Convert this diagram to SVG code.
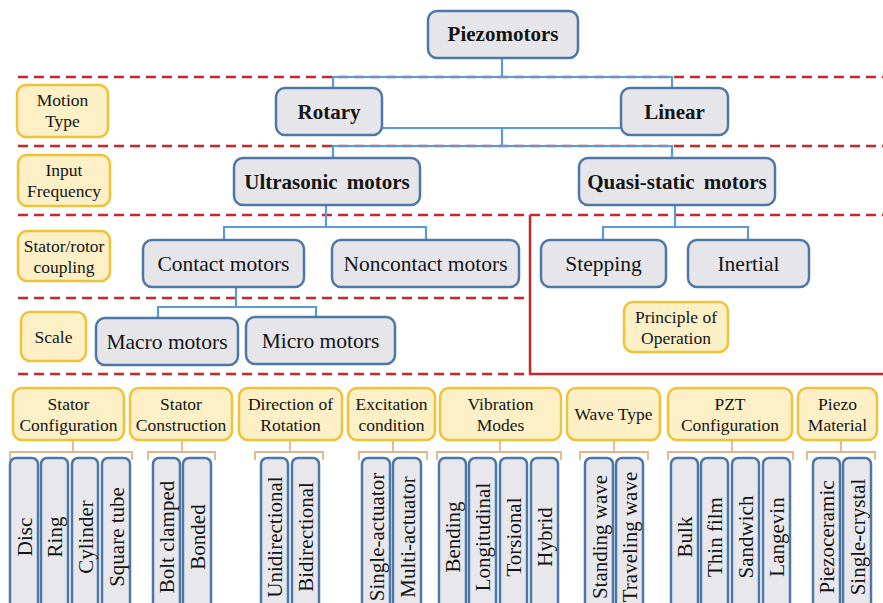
<svg xmlns="http://www.w3.org/2000/svg" width="883" height="603" viewBox="0 0 883 603">
<style>
text{font-family:"Liberation Serif","Times New Roman",serif;fill:#141414;text-anchor:middle}
.n{fill:#e6e6ea;stroke:#4d77a6;stroke-width:2.5}
.y{fill:#fdf0c6;stroke:#f0c238;stroke-width:2.5}
.l{fill:#e8e8ec;stroke:#4d77a6;stroke-width:2.5}
.b{font-weight:bold;font-size:21px}
.r{font-size:21.5px}
.s{font-size:17.5px}
.v{font-size:21px}
.c{fill:none;stroke:#5b9bd5;stroke-width:2.2}
.d{fill:none;stroke:#c8282c;stroke-width:2.5;stroke-dasharray:10 6}
.k{fill:none;stroke:#c8282c;stroke-width:2.5}
.t{fill:none;stroke:#e2b48e;stroke-width:1.8}
</style>
<rect width="883" height="603" fill="#ffffff"/>
<g id="dividers">
<line class="d" x1="18" y1="77" x2="883" y2="77"/>
<line class="d" x1="18" y1="146" x2="883" y2="146"/>
<line class="d" x1="18" y1="215" x2="883" y2="215"/>
<line class="d" x1="18" y1="298" x2="530" y2="298"/>
<line class="d" x1="18" y1="374" x2="530" y2="374"/>
<polyline class="k" points="530,215 530,374 883,374"/>
</g>
<g id="connectors">
<polyline class="c" points="502,58 502,77"/>
<polyline class="c" points="333,88 333,77 672,77 672,88"/>
<line class="c" x1="382" y1="128" x2="621" y2="128"/>
<polyline class="c" points="502,128 502,146"/>
<polyline class="c" points="333,158 333,146 672,146 672,158"/>
<polyline class="c" points="326,205 326,227"/>
<polyline class="c" points="224,240 224,227 426,227 426,240"/>
<polyline class="c" points="675,205 675,227"/>
<polyline class="c" points="603,240 603,227 748,227 748,240"/>
<polyline class="c" points="236,287 236,307"/>
<polyline class="c" points="158,318 158,307 316,307 316,318"/>
<polyline class="t" points="73,440 73,452"/><polyline class="t" points="10,460 10,452 132,452 132,460"/>
<polyline class="t" points="182,440 182,452"/><polyline class="t" points="148,460 148,452 215,452 215,460"/>
<polyline class="t" points="290,440 290,452"/><polyline class="t" points="255,460 255,452 323,452 323,460"/>
<polyline class="t" points="393,440 393,452"/><polyline class="t" points="359,460 359,452 427,452 427,460"/>
<polyline class="t" points="500,440 500,452"/><polyline class="t" points="437,460 437,452 561,452 561,460"/>
<polyline class="t" points="614,440 614,452"/><polyline class="t" points="580,460 580,452 648,452 648,460"/>
<polyline class="t" points="732,440 732,452"/><polyline class="t" points="668,460 668,452 793,452 793,460"/>
<polyline class="t" points="841,440 841,452"/><polyline class="t" points="807,460 807,452 875,452 875,460"/>
</g>
<g id="piezomotors"><rect class="n" x="428" y="11" width="150" height="47" rx="9"/><text class="b" x="503" y="41">Piezomotors</text></g>
<g id="rotary"><rect class="n" x="276" y="88" width="106" height="47" rx="9"/><text class="b" x="329" y="119">Rotary</text></g>
<g id="linear"><rect class="n" x="621" y="88" width="107" height="47" rx="9"/><text class="b" x="674.5" y="119">Linear</text></g>
<g id="ultrasonic"><rect class="n" x="234" y="158" width="186" height="47" rx="9"/><text class="b" x="327" y="189" word-spacing="4">Ultrasonic motors</text></g>
<g id="quasistatic"><rect class="n" x="579" y="158" width="196" height="47" rx="9"/><text class="b" x="677" y="189" word-spacing="4">Quasi-static motors</text></g>
<g id="contact"><rect class="n" x="143" y="240" width="161" height="47" rx="9"/><text class="r" x="223.5" y="271">Contact motors</text></g>
<g id="noncontact"><rect class="n" x="332" y="240" width="187" height="47" rx="9"/><text class="r" x="425.5" y="271">Noncontact motors</text></g>
<g id="stepping"><rect class="n" x="541" y="240" width="125" height="47" rx="9"/><text class="r" x="603.5" y="271">Stepping</text></g>
<g id="inertial"><rect class="n" x="688" y="240" width="121" height="47" rx="9"/><text class="r" x="748.5" y="271">Inertial</text></g>
<g id="macro"><rect class="n" x="96" y="318" width="142" height="47" rx="9"/><text class="r" x="167" y="349">Macro motors</text></g>
<g id="micro"><rect class="n" x="246" y="317" width="149" height="47" rx="9"/><text class="r" x="320.5" y="348">Micro motors</text></g>
<g id="lbl-motion"><rect class="y" x="17" y="85" width="91" height="52" rx="9"/><text class="s" x="62.5" y="106">Motion</text><text class="s" x="62.5" y="127">Type</text></g>
<g id="lbl-input"><rect class="y" x="18" y="155" width="92" height="51" rx="9"/><text class="s" x="64" y="175.5">Input</text><text class="s" x="64" y="196.5">Frequency</text></g>
<g id="lbl-coupling"><rect class="y" x="18" y="231" width="92" height="50" rx="9"/><text class="s" x="64" y="251.5">Stator/rotor</text><text class="s" x="64" y="272.5">coupling</text></g>
<g id="lbl-scale"><rect class="y" x="21" y="312" width="65" height="49" rx="9"/><text class="s" x="53.5" y="342.5">Scale</text></g>
<g id="lbl-principle"><rect class="y" x="624" y="302" width="104" height="50" rx="9"/><text class="s" x="676" y="322.5">Principle of</text><text class="s" x="676" y="343.5">Operation</text></g>
<g id="cat-statorconfig"><rect class="y" x="13" y="388" width="111" height="52" rx="9"/><text class="s" x="68.5" y="409.5">Stator</text><text class="s" x="68.5" y="430.5">Configuration</text></g>
<g id="cat-statorconst"><rect class="y" x="130" y="388" width="102" height="52" rx="9"/><text class="s" x="181" y="409.5">Stator</text><text class="s" x="181" y="430.5">Construction</text></g>
<g id="cat-direction"><rect class="y" x="239" y="388" width="103" height="52" rx="9"/><text class="s" x="290.5" y="409.5">Direction of</text><text class="s" x="290.5" y="430.5">Rotation</text></g>
<g id="cat-excitation"><rect class="y" x="348" y="388" width="87" height="52" rx="9"/><text class="s" x="391.5" y="409.5">Excitation</text><text class="s" x="391.5" y="430.5">condition</text></g>
<g id="cat-vibration"><rect class="y" x="440" y="388" width="121" height="52" rx="9"/><text class="s" x="500.5" y="409.5">Vibration</text><text class="s" x="500.5" y="430.5">Modes</text></g>
<g id="cat-wave"><rect class="y" x="567" y="388" width="93" height="52" rx="9"/><text class="s" x="613.5" y="420">Wave Type</text></g>
<g id="cat-pzt"><rect class="y" x="668" y="388" width="124" height="52" rx="9"/><text class="s" x="730" y="409.5">PZT</text><text class="s" x="730" y="430.5">Configuration</text></g>
<g id="cat-material"><rect class="y" x="798" y="388" width="79" height="52" rx="9"/><text class="s" x="837.5" y="409.5">Piezo</text><text class="s" x="837.5" y="430.5">Material</text></g>
<g id="leaf-disc"><rect class="l" x="10" y="458" width="28" height="160" rx="6"/><text class="v" transform="translate(31.5,537) rotate(-90)">Disc</text></g>
<g id="leaf-ring"><rect class="l" x="41" y="458" width="27" height="160" rx="6"/><text class="v" transform="translate(62,537) rotate(-90)">Ring</text></g>
<g id="leaf-cylinder"><rect class="l" x="72" y="458" width="26" height="160" rx="6"/><text class="v" transform="translate(92.5,537) rotate(-90)">Cylinder</text></g>
<g id="leaf-square"><rect class="l" x="102" y="458" width="28" height="160" rx="6"/><text class="v" transform="translate(123.5,537) rotate(-90)">Square tube</text></g>
<g id="leaf-bolt"><rect class="l" x="153" y="458" width="27" height="160" rx="6"/><text class="v" transform="translate(174,537) rotate(-90)">Bolt clamped</text></g>
<g id="leaf-bonded"><rect class="l" x="183" y="458" width="28" height="160" rx="6"/><text class="v" transform="translate(204.5,537) rotate(-90)">Bonded</text></g>
<g id="leaf-uni"><rect class="l" x="261" y="458" width="27" height="160" rx="6"/><text class="v" transform="translate(282,537) rotate(-90)">Unidirectional</text></g>
<g id="leaf-bi"><rect class="l" x="292" y="458" width="27" height="160" rx="6"/><text class="v" transform="translate(313,537) rotate(-90)">Bidirectional</text></g>
<g id="leaf-single"><rect class="l" x="362" y="458" width="28" height="160" rx="6"/><text class="v" transform="translate(383.5,537) rotate(-90)">Single-actuator</text></g>
<g id="leaf-multi"><rect class="l" x="393" y="458" width="28" height="160" rx="6"/><text class="v" transform="translate(414.5,537) rotate(-90)">Multi-actuator</text></g>
<g id="leaf-bending"><rect class="l" x="439" y="458" width="27" height="160" rx="6"/><text class="v" transform="translate(460,537) rotate(-90)">Bending</text></g>
<g id="leaf-longitudinal"><rect class="l" x="469" y="458" width="27" height="160" rx="6"/><text class="v" transform="translate(490,537) rotate(-90)">Longitudinal</text></g>
<g id="leaf-torsional"><rect class="l" x="500" y="458" width="27" height="160" rx="6"/><text class="v" transform="translate(521,537) rotate(-90)">Torsional</text></g>
<g id="leaf-hybrid"><rect class="l" x="531" y="458" width="27" height="160" rx="6"/><text class="v" transform="translate(552,537) rotate(-90)">Hybrid</text></g>
<g id="leaf-standing"><rect class="l" x="585" y="458" width="28" height="160" rx="6"/><text class="v" transform="translate(606.5,537) rotate(-90)">Standing wave</text></g>
<g id="leaf-traveling"><rect class="l" x="616" y="458" width="27" height="160" rx="6"/><text class="v" transform="translate(637,537) rotate(-90)">Traveling wave</text></g>
<g id="leaf-bulk"><rect class="l" x="671" y="458" width="27" height="160" rx="6"/><text class="v" transform="translate(692,537) rotate(-90)">Bulk</text></g>
<g id="leaf-thinfilm"><rect class="l" x="701" y="458" width="27" height="160" rx="6"/><text class="v" transform="translate(722,537) rotate(-90)">Thin film</text></g>
<g id="leaf-sandwich"><rect class="l" x="732" y="458" width="27" height="160" rx="6"/><text class="v" transform="translate(753,537) rotate(-90)">Sandwich</text></g>
<g id="leaf-langevin"><rect class="l" x="763" y="458" width="27" height="160" rx="6"/><text class="v" transform="translate(784,537) rotate(-90)">Langevin</text></g>
<g id="leaf-piezoceramic"><rect class="l" x="813" y="458" width="27" height="160" rx="6"/><text class="v" transform="translate(834,537) rotate(-90)">Piezoceramic</text></g>
<g id="leaf-singlecrystal"><rect class="l" x="843" y="458" width="28" height="160" rx="6"/><text class="v" transform="translate(864.5,537) rotate(-90)">Single-crystal</text></g>
</svg>
